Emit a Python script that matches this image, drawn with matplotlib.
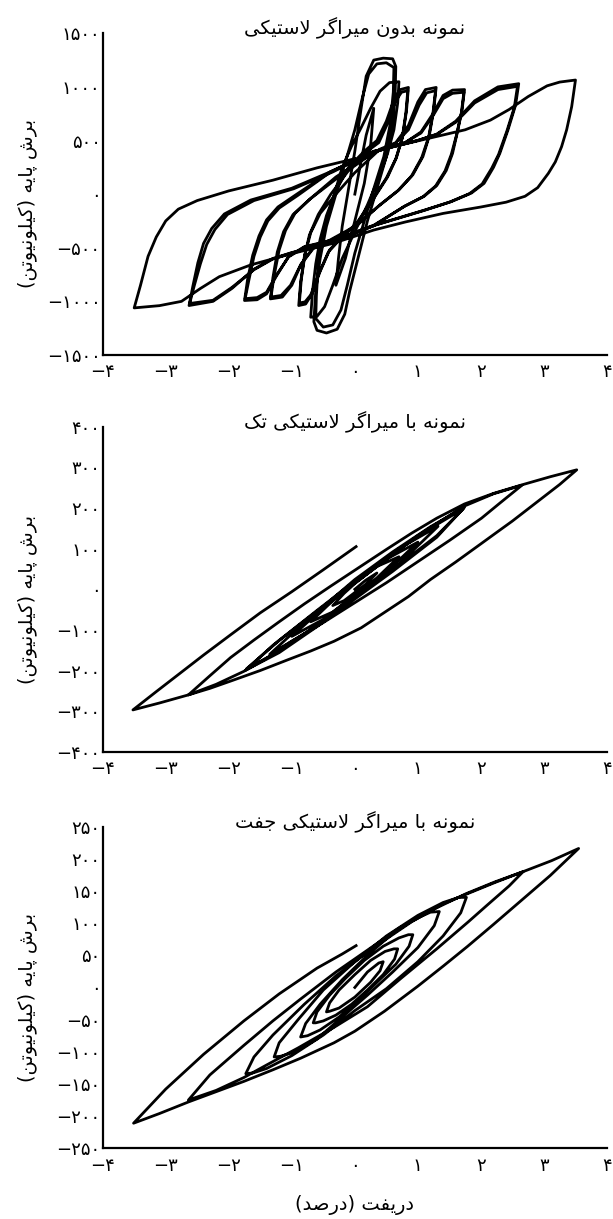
import matplotlib
matplotlib.use("Agg")
import matplotlib.pyplot as plt
import numpy as np

# ---- داده ها: دریفت (درصد) و برش پایه (کیلونیوتن) در طول مسیر بارگذاری ----

# نمونه بدون میراگر
bare_path = [
    # 0.3 %
    (0.00, 0), (0.08, 250), (0.18, 550), (0.30, 800),
    (0.25, 450), (0.15, 100), (0.00, -250), (-0.15, -600), (-0.30, -850),
    # 0.6 % (peak strength), two cycles
    (-0.26, -600), (-0.20, -300), (-0.10, 50), (0.00, 400), (0.10, 800), (0.18, 1100),
    (0.30, 1250), (0.45, 1268), (0.60, 1262), (0.65, 1190),
    (0.64, 950), (0.60, 650), (0.50, 350), (0.35, 50), (0.20, -250), (0.05, -600),
    (-0.08, -900), (-0.16, -1120), (-0.28, -1260), (-0.45, -1295), (-0.60, -1270), (-0.65, -1190),
    (-0.62, -900), (-0.55, -600), (-0.45, -300), (-0.30, 0), (-0.15, 300), (0.00, 600),
    (0.12, 900), (0.22, 1120), (0.35, 1215), (0.50, 1225), (0.62, 1180),
    (0.61, 950), (0.56, 650), (0.46, 350), (0.30, 50), (0.15, -250), (0.00, -550),
    (-0.12, -850), (-0.22, -1080), (-0.35, -1220), (-0.50, -1240), (-0.62, -1160),
    # 0.7 %
    (-0.61, -950), (-0.58, -650), (-0.50, -350), (-0.35, -50), (-0.20, 250), (-0.05, 450),
    (0.10, 620), (0.25, 800), (0.40, 960), (0.55, 1040), (0.70, 1048),
    (0.68, 850), (0.62, 600), (0.52, 380), (0.38, 150), (0.20, -100), (0.00, -350),
    (-0.20, -600), (-0.35, -850), (-0.48, -1050), (-0.60, -1140), (-0.70, -1148),
    # 0.85 %, two cycles
    (-0.67, -900), (-0.62, -650), (-0.55, -420), (-0.45, -200), (-0.30, 30), (-0.10, 250),
    (0.15, 400), (0.35, 500), (0.50, 680), (0.62, 880), (0.72, 975), (0.85, 995),
    (0.82, 780), (0.76, 540), (0.66, 340), (0.52, 160), (0.30, -40), (0.05, -260),
    (-0.20, -400), (-0.40, -520), (-0.55, -720), (-0.68, -930), (-0.78, -1025), (-0.89, -1039),
    (-0.86, -820), (-0.80, -580), (-0.72, -380), (-0.58, -190), (-0.38, 0), (-0.10, 220),
    (0.15, 380), (0.38, 480), (0.52, 660), (0.64, 860), (0.74, 950), (0.84, 965),
    (0.81, 760), (0.75, 520), (0.65, 330), (0.50, 150), (0.28, -50), (0.03, -270),
    (-0.22, -410), (-0.42, -540), (-0.57, -740), (-0.70, -940), (-0.79, -1005), (-0.88, -1015),
    # 1.3 %, two cycles
    (-0.85, -800), (-0.79, -560), (-0.70, -360), (-0.55, -180), (-0.30, 0), (0.00, 200),
    (0.40, 420), (0.65, 480), (0.85, 640), (1.00, 860), (1.12, 975), (1.29, 995),
    (1.25, 780), (1.18, 540), (1.08, 350), (0.92, 180), (0.70, 40), (0.40, -100),
    (0.00, -300), (-0.40, -430), (-0.65, -490), (-0.85, -650), (-1.00, -850), (-1.15, -960), (-1.34, -977),
    (-1.30, -780), (-1.23, -540), (-1.13, -350), (-0.98, -190), (-0.72, -50), (-0.30, 140),
    (0.30, 390), (0.62, 460), (0.85, 600), (1.02, 830), (1.14, 945), (1.28, 965),
    (1.24, 760), (1.17, 530), (1.06, 340), (0.90, 170), (0.68, 30), (0.38, -110),
    (0.00, -310), (-0.40, -440), (-0.65, -500), (-0.86, -660), (-1.02, -850), (-1.17, -945), (-1.33, -960),
    # 1.75 %, two cycles
    (-1.28, -760), (-1.20, -520), (-1.10, -340), (-0.95, -180), (-0.70, -40), (-0.30, 160),
    (0.30, 390), (0.80, 480), (1.05, 580), (1.25, 760), (1.40, 920), (1.55, 970), (1.74, 975),
    (1.70, 780), (1.62, 560), (1.55, 380), (1.45, 220), (1.30, 80), (1.10, -20), (0.80, -110),
    (0.30, -290), (-0.30, -420), (-0.80, -490), (-1.05, -580), (-1.25, -770), (-1.40, -930),
    (-1.55, -985), (-1.75, -992),
    (-1.70, -790), (-1.62, -570), (-1.52, -390), (-1.40, -240), (-1.22, -120), (-0.92, 0),
    (-0.40, 205), (0.30, 392), (0.80, 482), (1.05, 570), (1.25, 740), (1.40, 890), (1.55, 940), (1.73, 950),
    (1.69, 760), (1.61, 545), (1.53, 370), (1.43, 215), (1.28, 75), (1.08, -25), (0.78, -115),
    (0.30, -295), (-0.30, -425), (-0.80, -495), (-1.05, -585), (-1.25, -760), (-1.40, -915),
    (-1.55, -965), (-1.74, -975),
    # 2.6 %, two cycles
    (-1.68, -800), (-1.60, -580), (-1.50, -400), (-1.38, -250), (-1.20, -130), (-0.90, -10),
    (-0.40, 200), (0.30, 395), (1.00, 500), (1.30, 560), (1.60, 680), (1.90, 870), (2.27, 1000), (2.60, 1030),
    (2.55, 830), (2.43, 600), (2.30, 380), (2.20, 250), (2.05, 100), (1.85, 10), (1.53, -70),
    (1.11, -148), (0.31, -290), (-0.35, -445), (-1.00, -545), (-1.30, -600), (-1.60, -700),
    (-1.95, -880), (-2.25, -1000), (-2.63, -1039),
    (-2.57, -860), (-2.49, -640), (-2.40, -460), (-2.27, -320), (-2.07, -185), (-1.65, -55),
    (-1.00, 55), (-0.40, 205), (0.30, 398), (1.00, 502), (1.30, 556), (1.60, 670), (1.90, 850),
    (2.27, 975), (2.58, 1005),
    (2.53, 810), (2.41, 585), (2.28, 370), (2.17, 240), (2.02, 95), (1.82, 5), (1.50, -75),
    (1.10, -152), (0.31, -292), (-0.35, -448), (-1.00, -548), (-1.30, -605), (-1.60, -705),
    (-1.95, -870), (-2.25, -990), (-2.62, -1020),
    # 3.5 %
    (-2.55, -860), (-2.45, -650), (-2.35, -470), (-2.22, -330), (-2.02, -190), (-1.60, -60),
    (-0.97, 50), (-0.35, 207), (0.30, 400), (1.10, 510), (1.75, 600), (2.15, 690), (2.45, 790),
    (2.75, 910), (3.05, 1010), (3.25, 1045), (3.50, 1064),
    (3.44, 816), (3.36, 600), (3.28, 443), (3.18, 300), (3.07, 194), (2.90, 60), (2.70, -20),
    (2.40, -75), (2.00, -120), (1.40, -180), (0.80, -260), (0.30, -335), (-0.35, -460),
    (-1.00, -555), (-1.65, -660), (-2.15, -770), (-2.45, -880), (-2.75, -1000), (-3.10, -1040), (-3.50, -1061),
    (-3.40, -850), (-3.28, -580), (-3.15, -400), (-3.00, -250), (-2.80, -140), (-2.50, -60),
    (-2.00, 30), (-1.30, 130), (-0.60, 245), (0.00, 330),
]

# نمونه با میراگر تک
single_path = [
    (0.00, 0), (0.17, 22), (0.35, 40),
    (0.17, 12), (0.00, -8), (-0.17, -28), (-0.35, -40),
    (-0.17, -10), (0.00, 14), (0.35, 56), (0.70, 80),
    (0.35, 28), (0.00, -14), (-0.35, -56), (-0.70, -80),
    (-0.35, -28), (0.00, 16), (0.50, 74), (1.00, 116),
    (0.50, 42), (0.00, -16), (-0.50, -74), (-1.00, -116),
    (-0.70, -74), (0.00, 20), (0.70, 100), (1.32, 155),
    (0.70, 62), (0.00, -20), (-0.70, -100), (-1.35, -160),
    (-1.00, -110), (-0.60, -56), (0.00, 24), (0.60, 92), (1.20, 154), (1.74, 202),
    (1.30, 128), (0.60, 44), (0.00, -24), (-0.60, -92), (-1.20, -156), (-1.73, -199),
    (-1.30, -138), (-0.60, -52), (0.00, 20), (0.60, 88), (1.20, 150), (1.72, 198),
    (1.30, 132), (0.60, 48), (0.00, -20), (-0.60, -88), (-1.20, -152), (-1.72, -196),
    # 2.65 %
    (-1.20, -126), (-0.50, -42), (0.30, 50), (1.00, 132), (1.74, 205), (2.20, 235), (2.65, 256),
    (2.30, 212), (2.01, 175), (1.50, 120), (1.00, 68), (0.50, 16), (0.00, -33), (-0.50, -82),
    (-1.00, -128), (-1.40, -170), (-1.76, -202), (-2.20, -234), (-2.64, -260),
    (-2.30, -213), (-1.97, -168), (-1.60, -125), (-1.20, -80), (-0.80, -36), (-0.38, 8),
    (0.05, 52), (0.50, 98), (0.90, 138), (1.30, 175), (1.74, 210), (2.20, 236), (2.65, 257),
    # 3.5 %
    (3.10, 277), (3.52, 294),
    (3.25, 258), (3.00, 228), (2.75, 198), (2.50, 168), (2.25, 140), (2.01, 113), (1.60, 67),
    (1.20, 24), (0.85, -18), (0.47, -57), (0.10, -95), (-0.33, -128), (-0.70, -152),
    (-1.07, -174), (-1.50, -200), (-1.97, -226), (-2.30, -244), (-2.64, -260), (-3.10, -280), (-3.52, -297),
    (-3.15, -252), (-2.80, -210), (-2.40, -162), (-1.97, -112), (-1.50, -58), (-1.00, -6),
    (-0.50, 48), (0.02, 105),
]

# نمونه با میراگر جفت
double_path = [
    (0.00, 0), (0.20, 24), (0.38, 38), (0.45, 40),
    (0.40, 26), (0.25, 8), (0.00, -15), (-0.25, -32), (-0.40, -37), (-0.45, -38),
    (-0.40, -24), (-0.25, -4), (0.00, 20), (0.25, 42), (0.48, 56), (0.62, 60), (0.68, 60),
    (0.63, 44), (0.45, 20), (0.20, -4), (-0.05, -26), (-0.30, -43), (-0.50, -52), (-0.62, -55), (-0.66, -55),
    (-0.60, -38), (-0.40, -12), (-0.15, 14), (0.15, 42), (0.45, 64), (0.70, 77), (0.85, 82), (0.92, 82),
    (0.86, 64), (0.65, 36), (0.35, 8), (0.05, -20), (-0.25, -46), (-0.55, -66), (-0.75, -75), (-0.86, -77),
    (-0.78, -56), (-0.55, -26), (-0.20, 12), (0.20, 50), (0.60, 84), (0.95, 106), (1.20, 117), (1.34, 118),
    (1.26, 96), (1.00, 62), (0.60, 24), (0.20, -12), (-0.20, -46), (-0.60, -80), (-0.95, -100), (-1.18, -107), (-1.28, -108),
    (-1.20, -86), (-0.90, -50), (-0.50, -4), (0.00, 40), (0.50, 80), (1.00, 112), (1.40, 132), (1.65, 140), (1.77, 140),
    (1.68, 116), (1.40, 80), (1.00, 40), (0.50, -2), (0.00, -36), (-0.50, -74), (-1.00, -106), (-1.40, -126), (-1.62, -133), (-1.73, -134),
    # 2.65 %
    (-1.60, -108), (-1.30, -74), (-0.80, -26), (-0.30, 18), (0.30, 62), (0.90, 102), (1.40, 130),
    (1.77, 145), (2.22, 163), (2.67, 180),
    (2.45, 158), (2.10, 128), (1.80, 102), (1.30, 60), (0.73, 14), (0.20, -30), (-0.33, -62),
    (-0.90, -94), (-1.39, -120), (-1.76, -140), (-2.20, -160), (-2.64, -175),
    (-2.30, -136), (-1.76, -90), (-1.30, -52), (-0.86, -18), (-0.30, 24), (0.20, 58), (0.70, 92),
    (1.26, 122), (1.77, 146), (2.22, 164), (2.67, 180),
    # 3.5 %
    (3.12, 197), (3.55, 216),
    (3.10, 174), (2.59, 131), (2.20, 98), (1.79, 64), (1.40, 33), (1.00, 2), (0.47, -37),
    (0.00, -68), (-0.33, -86), (-0.86, -110), (-1.30, -128), (-1.76, -146), (-2.20, -162),
    (-2.64, -178), (-3.10, -196), (-3.51, -211),
    (-3.00, -158), (-2.40, -104), (-1.76, -52), (-1.20, -10), (-0.60, 30), (-0.20, 52), (0.02, 65),
]

x_ticks = [-4, -3, -2, -1, 0, 1, 2, 3, 4]
x_ticklabels = ["−۴", "−۳", "−۲", "−۱", "۰", "۱", "۲", "۳", "۴"]

bare_yticks = [-1500, -1000, -500, 0, 500, 1000, 1500]
bare_yticklabels = ["−۱۵۰۰", "−۱۰۰۰", "−۵۰۰", "۰", "۵۰۰", "۱۰۰۰", "۱۵۰۰"]
single_yticks = [-400, -300, -200, -100, 0, 100, 200, 300, 400]
single_yticklabels = ["−۴۰۰", "−۳۰۰", "−۲۰۰", "−۱۰۰", "۰", "۱۰۰", "۲۰۰", "۳۰۰", "۴۰۰"]
double_yticks = [-250, -200, -150, -100, -50, 0, 50, 100, 150, 200, 250]
double_yticklabels = ["−۲۵۰", "−۲۰۰", "−۱۵۰", "−۱۰۰", "−۵۰", "۰", "۵۰", "۱۰۰", "۱۵۰", "۲۰۰", "۲۵۰"]

titles = ["نمونه بدون میراگر لاستیکی", "نمونه با میراگر لاستیکی تک", "نمونه با میراگر لاستیکی جفت"]
y_title = "برش پایه (کیلونیوتن)"
x_title = "دریفت (درصد)"


# matplotlib حروف فارسی را به هم نمی چسباند، پس شکل حروف را خودمان انتخاب می کنیم
# (isolated, final, initial, medial)
FORMS = {
    "ا": ("\uFE8D", "\uFE8E", None, None),
    "ب": ("\uFE8F", "\uFE90", "\uFE91", "\uFE92"),
    "پ": ("\uFB56", "\uFB57", "\uFB58", "\uFB59"),
    "ت": ("\uFE95", "\uFE96", "\uFE97", "\uFE98"),
    "ج": ("\uFE9D", "\uFE9E", "\uFE9F", "\uFEA0"),
    "د": ("\uFEA9", "\uFEAA", None, None),
    "ر": ("\uFEAD", "\uFEAE", None, None),
    "س": ("\uFEB1", "\uFEB2", "\uFEB3", "\uFEB4"),
    "ش": ("\uFEB5", "\uFEB6", "\uFEB7", "\uFEB8"),
    "ص": ("\uFEB9", "\uFEBA", "\uFEBB", "\uFEBC"),
    "ف": ("\uFED1", "\uFED2", "\uFED3", "\uFED4"),
    "ک": ("\uFB8E", "\uFB8F", "\uFB90", "\uFB91"),
    "گ": ("\uFB92", "\uFB93", "\uFB94", "\uFB95"),
    "ل": ("\uFEDD", "\uFEDE", "\uFEDF", "\uFEE0"),
    "م": ("\uFEE1", "\uFEE2", "\uFEE3", "\uFEE4"),
    "ن": ("\uFEE5", "\uFEE6", "\uFEE7", "\uFEE8"),
    "ه": ("\uFEE9", "\uFEEA", "\uFEEB", "\uFEEC"),
    "و": ("\uFEED", "\uFEEE", None, None),
    "ی": ("\uFBFC", "\uFBFD", "\uFBFE", "\uFBFF"),
}


def fa(text):
    text = text.replace("\u064A", "\u06CC").replace("\u0643", "\u06A9")
    chars = list(text)
    out = []
    i = 0
    while i < len(chars):
        c = chars[i]
        if c not in FORMS:
            out.append(c)
            i += 1
            continue
        prev = chars[i - 1] if i > 0 else ""
        link_prev = prev in FORMS and FORMS[prev][2] is not None
        if c == "ل" and i + 1 < len(chars) and chars[i + 1] == "ا":
            out.append("\uFEFC" if link_prev else "\uFEFB")
            i += 2
            continue
        nxt = chars[i + 1] if i + 1 < len(chars) else ""
        link_next = FORMS[c][2] is not None and nxt in FORMS
        iso, fin, ini, med = FORMS[c]
        if link_prev and link_next:
            out.append(med)
        elif link_prev:
            out.append(fin)
        elif link_next:
            out.append(ini)
        else:
            out.append(iso)
        i += 1
    s = "".join(reversed(out))
    return s.translate(str.maketrans("()", ")("))


plt.rcParams["font.family"] = ["DejaVu Sans"]

fig = plt.figure(figsize=(6.13, 12.19), dpi=100)
boxes = [
    [0.1675, 0.7088, 0.8227, 0.2639],
    [0.1675, 0.3833, 0.8227, 0.2666],
    [0.1675, 0.0580, 0.8227, 0.2639],
]
panels = [
    (bare_path, bare_yticks, bare_yticklabels),
    (single_path, single_yticks, single_yticklabels),
    (double_path, double_yticks, double_yticklabels),
]

for box, (path, yticks, ylabels), title in zip(boxes, panels, titles):
    ax = fig.add_axes(box)
    drift, shear = np.array(path, dtype=float).T
    ax.plot(drift, shear, color="black", lw=2.0, solid_joinstyle="round")
    ax.set_xlim(-4, 4)
    ax.set_ylim(yticks[0], yticks[-1])
    ax.set_xticks(x_ticks)
    ax.set_xticklabels(x_ticklabels)
    ax.set_yticks(yticks)
    ax.set_yticklabels(ylabels)
    ax.tick_params(length=0, labelsize=13)
    ax.tick_params(axis="y", pad=1.5)
    ax.tick_params(axis="x", pad=6)
    for side in ["top", "right"]:
        ax.spines[side].set_visible(False)
    for side in ["left", "bottom"]:
        ax.spines[side].set_linewidth(1.6)
    ax.text(0.5, 1.015, fa(title), transform=ax.transAxes, ha="center", va="center", fontsize=14)
    ax.set_ylabel(fa(y_title), fontsize=14)
    ax.yaxis.set_label_coords(-0.13, 0.47)

fig.text(0.5785, 1 - 1205 / 1219, fa(x_title), ha="center", va="center", fontsize=14)

fig.savefig("out.png", dpi=100)
